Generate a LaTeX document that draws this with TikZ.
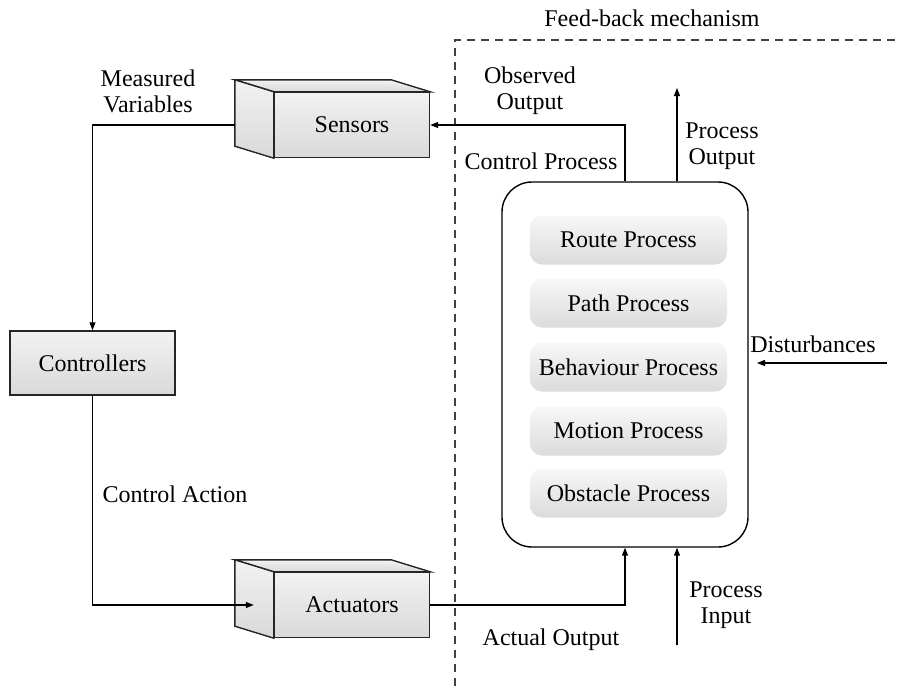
\documentclass[tikz,border=0pt]{standalone}
\usepackage{fontspec}
\setmainfont{Liberation Serif}
\usetikzlibrary{arrows.meta,calc}

\begin{document}
\begin{tikzpicture}[x=1pt,y=-1pt,
  font=\fontsize{24}{26}\selectfont,
  line width=1.2pt,
  >={Triangle[length=8pt,width=6pt]},
  face/.style={draw=black!85, line width=1.4pt, top color=gray!10, bottom color=gray!30},
  frontbox/.style={face, minimum width=155pt, minimum height=65pt, inner sep=0pt},
  ctrlbox/.style={face, minimum width=165pt, minimum height=64pt, inner sep=0pt},
  outerbox/.style={draw=black, line width=1.4pt, rounded corners=30pt, minimum width=246pt, minimum height=365pt, inner sep=0pt},
  procbox/.style={rounded corners=12pt, top color=gray!6, bottom color=gray!28, minimum width=197pt, minimum height=49pt, inner sep=0pt},
  lbl/.style={align=center, inner sep=0pt},
  feedback/.style={dashed, dash pattern=on 8pt off 6pt, draw=black!75, line width=1.2pt}
]
\useasboundingbox (0,0) rectangle (898,686);

% feedback boundary
\coordinate (fbtop) at (455,40);
\coordinate (fbright) at (898,40);
\coordinate (fbbottom) at (455,686);
\draw[feedback] (fbbottom) -- (fbtop) -- (fbright);
\node[lbl] (fbl) at (652,18) {Feed-back mechanism};

% sensors (3D box)
\node[frontbox] (sens) at (352,125) {};
\draw[face] (sens.north west) -- ++(-39,-12) -- ($(sens.north east)+(-39,-12)$) -- (sens.north east) -- cycle;
\draw[face] (sens.north west) -- ++(-39,-12) -- ($(sens.south west)+(-39,-12)$) -- (sens.south west) -- cycle;
\node[lbl] (senst) at (sens.center) {Sensors};

% actuators (3D box)
\node[frontbox] (act) at (352,605) {};
\draw[face] (act.north west) -- ++(-39,-12) -- ($(act.north east)+(-39,-12)$) -- (act.north east) -- cycle;
\draw[face] (act.north west) -- ++(-39,-12) -- ($(act.south west)+(-39,-12)$) -- (act.south west) -- cycle;
\node[lbl] (actt) at (act.center) {Actuators};

% controllers
\node[ctrlbox] (ctrl) at (92.5,363) {Controllers};

% control process
\node[outerbox] (cp) at (625,364.5) {};
\node[procbox] (p1) at (628.5,240) {Route Process};
\node[procbox] (p2) at (628.5,303) {Path Process};
\node[procbox] (p3) at (628.5,367) {Behaviour Process};
\node[procbox] (p4) at (628.5,431) {Motion Process};
\node[procbox] (p5) at (628.5,493) {Obstacle Process};

% connectors
\coordinate (sleft) at ($(sens.west)+(-39,0)$);
\coordinate (aleft) at ($(act.west)+(-20,0)$);
\draw[->] (sleft) -| (ctrl.north);
\draw[->] (ctrl.south) |- (aleft);
\draw[->] (cp.north) |- (sens.east);
\draw[->] (act.east) -| (cp.south);

\coordinate (pout) at (677,88);
\draw[->] (pout |- cp.north) -- (pout);
\coordinate (pin) at (677,645);
\draw[->] (pin) -- (pin |- cp.south);
\coordinate (dstart) at (887,363);
\coordinate (dend) at (757,363);
\draw[->] (dstart) -- (dend);

% labels
\node[lbl] (l1) at (148,91) {Measured\\Variables};
\node[lbl] (l2) at (530,91) {Observed\\Output};
\node[lbl] (l3) at (541,161) {Control Process};
\node[lbl] (l4) at (722,146) {Process\\Output};
\node[lbl] (l5) at (813,344) {Disturbances};
\node[lbl] (l6) at (175,494) {Control Action};
\node[lbl] (l7) at (551,640) {Actual Output};
\node[lbl] (l8) at (726,605) {Process\\Input};
\end{tikzpicture}
\end{document}
